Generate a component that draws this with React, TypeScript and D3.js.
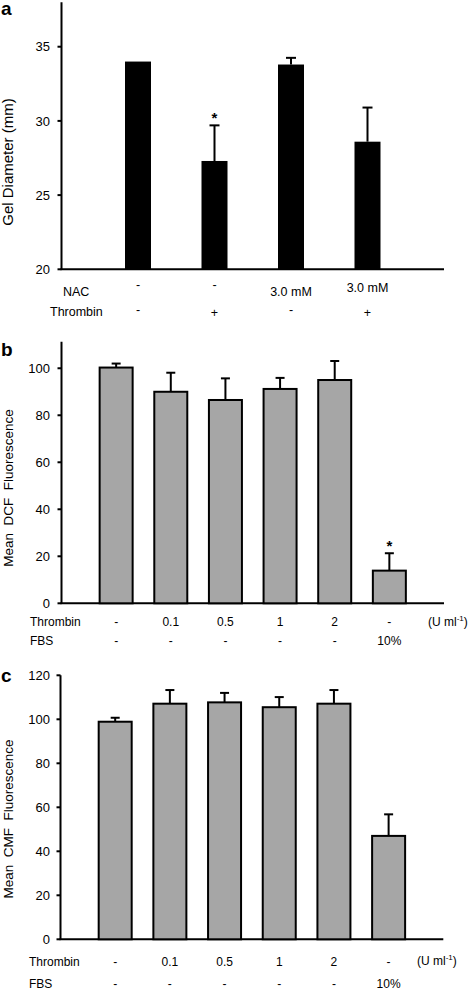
import React from "react";
import * as d3 from "d3";

// ---------- Data ----------
const aNAC = ["-", "-", "3.0 mM", "3.0 mM"];
const aThrombin = ["-", "+", "-", "+"];
const aValues = [34.0, 27.3, 33.8, 28.6];
const aErrors = [0.0, 2.4, 0.45, 2.3];
const aSig = [false, true, false, false];
const aTicks = [20, 25, 30, 35];

const bThrombin = ["-", "0.1", "0.5", "1", "2", "-"];
const bFBS = ["-", "-", "-", "-", "-", "10%"];
const bValues = [100.3, 90.0, 86.5, 91.2, 95.0, 13.9];
const bErrors = [1.7, 8.1, 9.2, 4.7, 8.1, 7.4];
const bSig = [false, false, false, false, false, true];
const bTicks = [0, 20, 40, 60, 80, 100];

const cValues = [98.9, 107.1, 107.7, 105.5, 107.1, 47.0];
const cErrors = [1.8, 6.2, 4.3, 4.6, 6.2, 9.8];
const cSig = [false, false, false, false, false, false];
const cTicks = [0, 20, 40, 60, 80, 100, 120];

const FONT = "Liberation Sans, Arial, sans-serif";

type PanelProps = {
  letter: string;
  letterY: number;
  yLabel: string;
  yLabelSize: number;
  yLabelCenter: number;
  x0: number;
  x1: number;
  slots: number;
  yDomain: [number, number];
  yRange: [number, number];
  ticks: number[];
  values: number[];
  errors: number[];
  sig: boolean[];
  barWidth: number;
  barFill: string;
  barStroke: string | null;
  capWidth: number;
  rowSize: number;
  rows: { name: string; nameX: number; y: number; labels: string[]; dy?: number[] }[];
  unit?: { x: number; y: number };
};

function Panel(p: PanelProps) {
  const x = d3.scaleLinear().domain([0, p.slots]).range([p.x0, p.x1]);
  const y = d3.scaleLinear().domain(p.yDomain).range(p.yRange);
  const base = p.yDomain[0];
  return (
    <g fontFamily={FONT}>
      <text x={1} y={p.letterY} fontSize={19} fontWeight="bold" fill="#000">
        {p.letter}
      </text>
      <text
        transform={`translate(13,${p.yLabelCenter}) rotate(-90)`}
        textAnchor="middle"
        fontSize={p.yLabelSize}
        fill="#000"
        style={{ whiteSpace: "pre" }}
      >
        {p.yLabel}
      </text>
      {/* axes */}
      <line x1={p.x0} x2={p.x0} y1={p.yRange[0]} y2={p.yRange[1]} stroke="#000" strokeWidth={2} />
      <line x1={p.x0 - 1} x2={p.x1} y1={p.yRange[0]} y2={p.yRange[0]} stroke="#000" strokeWidth={2} />
      {p.ticks.map((t) => (
        <g key={t}>
          <line x1={p.x0 - 4} x2={p.x0} y1={y(t)} y2={y(t)} stroke="#000" strokeWidth={2} />
          <text x={50} y={y(t)} dy="0.36em" textAnchor="end" fontSize={13} fill="#000">
            {t}
          </text>
        </g>
      ))}
      {/* bars */}
      {p.values.map((v, i) => {
        const cx = x(i + 1);
        const top = y(v);
        const errTop = y(v + p.errors[i]);
        return (
          <g key={i}>
            {p.errors[i] > 0 && (
              <>
                <line x1={cx} x2={cx} y1={top} y2={errTop} stroke="#000" strokeWidth={2} />
                <line
                  x1={cx - p.capWidth / 2}
                  x2={cx + p.capWidth / 2}
                  y1={errTop}
                  y2={errTop}
                  stroke="#000"
                  strokeWidth={2}
                />
              </>
            )}
            <rect
              x={cx - p.barWidth / 2}
              y={top}
              width={p.barWidth}
              height={y(base) - top}
              fill={p.barFill}
              stroke={p.barStroke ?? "none"}
              strokeWidth={p.barStroke ? 2 : 0}
            />
            {p.sig[i] && (
              <text x={cx} y={errTop - 2} textAnchor="middle" fontSize={15} fontWeight="bold" fill="#000">
                *
              </text>
            )}
          </g>
        );
      })}
      {/* category rows */}
      {p.rows.map((r, ri) => (
        <g key={ri}>
          <text x={r.nameX} y={r.y} fontSize={p.rowSize} fill="#000">
            {r.name}
          </text>
          {r.labels.map((l, i) => (
            <text
              key={i}
              x={x(i + 1)}
              y={r.y + (r.dy ? r.dy[i] : 0)}
              textAnchor="middle"
              fontSize={p.rowSize}
              fill="#000"
            >
              {l}
            </text>
          ))}
        </g>
      ))}
      {p.unit && (
        <text x={p.unit.x} y={p.unit.y} fontSize={p.rowSize} fill="#000">
          (U ml
          <tspan dy={-5} fontSize={8}>
            -1
          </tspan>
          <tspan dy={5}>)</tspan>
        </text>
      )}
    </g>
  );
}

export default function App() {
  return (
    <svg
      width={469}
      height={990}
      style={{ position: "absolute", left: 0, top: 0, background: "#fff" }}
    >
      <rect width={469} height={990} fill="#fff" />
      <Panel
        letter="a"
        letterY={15}
        yLabel="Gel Diameter (mm)"
        yLabelSize={15}
        yLabelCenter={162}
        x0={61.5}
        x1={444}
        slots={5}
        yDomain={[20, 38]}
        yRange={[269.3, 2.2]}
        ticks={aTicks}
        values={aValues}
        errors={aErrors}
        sig={aSig}
        barWidth={26}
        barFill="#000"
        barStroke={null}
        capWidth={10}
        rowSize={12.5}
        rows={[
          { name: "NAC", nameX: 63, y: 296, labels: aNAC, dy: [-7, -7, 0, -4] },
          { name: "Thrombin", nameX: 50, y: 316, labels: aThrombin, dy: [-2, 1, -2, 1] },
        ]}
      />
      <Panel
        letter="b"
        letterY={356}
        yLabel="Mean  DCF  Fluorescence"
        yLabelSize={13.5}
        yLabelCenter={488}
        x0={61.5}
        x1={444}
        slots={7}
        yDomain={[0, 111.3]}
        yRange={[603.3, 341.7]}
        ticks={bTicks}
        values={bValues}
        errors={bErrors}
        sig={bSig}
        barWidth={33}
        barFill="#a6a6a6"
        barStroke="#000"
        capWidth={9}
        rowSize={12}
        rows={[
          { name: "Thrombin", nameX: 30, y: 626, labels: bThrombin },
          { name: "FBS", nameX: 30, y: 645, labels: bFBS },
        ]}
        unit={{ x: 428, y: 626 }}
      />
      <Panel
        letter="c"
        letterY={682}
        yLabel="Mean  CMF  Fluorescence"
        yLabelSize={13.5}
        yLabelCenter={819}
        x0={60.5}
        x1={443.3}
        slots={7}
        yDomain={[0, 120]}
        yRange={[939.3, 675.3]}
        ticks={cTicks}
        values={cValues}
        errors={cErrors}
        sig={cSig}
        barWidth={33}
        barFill="#a6a6a6"
        barStroke="#000"
        capWidth={9}
        rowSize={12}
        rows={[
          { name: "Thrombin", nameX: 29, y: 966, labels: bThrombin },
          { name: "FBS", nameX: 29, y: 988, labels: bFBS },
        ]}
        unit={{ x: 417, y: 965 }}
      />
    </svg>
  );
}
